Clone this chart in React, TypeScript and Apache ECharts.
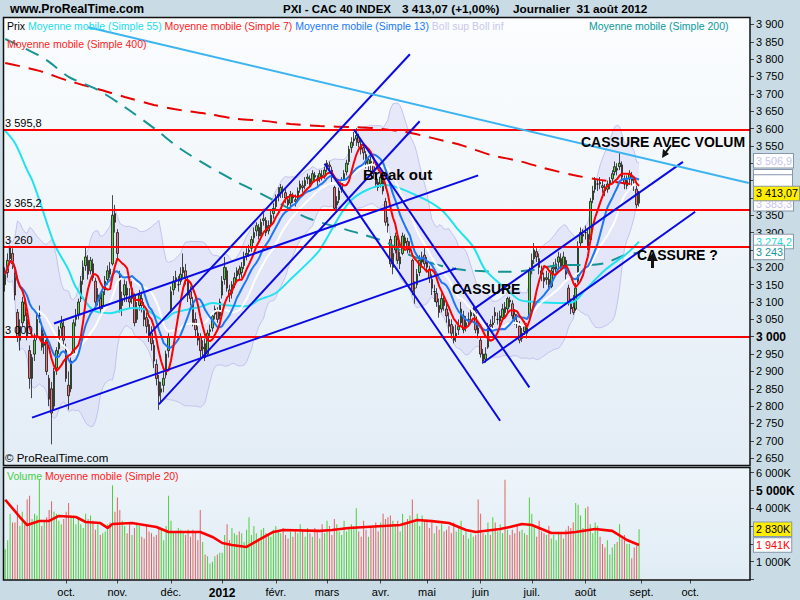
import React, { useEffect, useRef } from 'react';
import * as echarts from 'echarts';

const FONT = '"Liberation Sans", Arial, sans-serif';

// Trading calendar
const FIRST_DAY = '2011-08-29';
const LAST_DAY = '2012-08-31';
const HOLIDAYS = ['2011-12-26', '2012-04-06', '2012-04-09', '2012-05-01'];
const FUTURE_DAYS = 45;
const MONTHS_FR = ['janv.', 'févr.', 'mars', 'avr.', 'mai', 'juin', 'juil.', 'août', 'sept.', 'oct.', 'nov.', 'déc.'];

// Daily candles: [open, close, low, high]
const ohlc: number[][] = [
  [3150,3180,3130,3200],[3185,3220,3170,3240],[3225,3256,3210,3262],[3240,3210,3195,3255],[3190,3120,3105,3200],
  [3070,3000,2985,3080],[2990,3030,2960,3050],[3040,3100,3030,3115],[3095,3060,3045,3110],[3050,3000,2990,3070],
  [2960,2880,2850,2975],[2880,2940,2823,2950],[2950,2990,2930,3010],[3000,3050,2990,3065],[3060,3060,3040,3090],
  [3020,2970,2960,3030],[2975,2980,2950,3010],[2990,2900,2890,3000],[2880,2820,2800,2890],[2850,2780,2690,2870],
  [2800,2900,2790,2910],[2910,2960,2890,2970],[2965,3020,2950,3030],[3025,3040,3000,3060],[3030,2990,2970,3045],
  [2970,2880,2870,2980],[2860,2830,2790,2900],[2850,2930,2840,2940],[2950,3040,2945,3050],[3050,3060,3030,3080],
  [3065,3100,3050,3110],[3110,3160,3100,3175],[3165,3200,3150,3220],[3205,3230,3190,3258],[3220,3180,3165,3235],
  [3190,3220,3180,3230],[3210,3170,3160,3225],[3160,3100,3090,3170],[3110,3120,3090,3140],[3110,3080,3060,3125],
  [3090,3130,3080,3140],[3135,3160,3120,3175],[3165,3190,3150,3205],[3195,3180,3170,3215],[3210,3350,3205,3408],
  [3355,3330,3300,3380],[3300,3240,3220,3310],[3180,3080,3070,3190],[3090,3110,3060,3130],[3120,3150,3100,3165],
  [3140,3120,3100,3160],[3110,3100,3080,3140],[3110,3140,3095,3160],[3120,3040,3030,3125],[3050,3080,3040,3100],
  [3090,3120,3075,3135],[3110,3090,3070,3130],[3080,3050,3030,3100],[3055,3030,3010,3070],[3035,3000,2985,3050],
  [3010,2980,2960,3030],[2975,2930,2910,2990],[2920,2880,2860,2935],[2870,2830,2789,2890],[2840,2850,2810,2870],
  [2860,2880,2840,2900],[2890,2950,2880,2960],[2960,3000,2940,3010],[3080,3130,3070,3145],[3135,3160,3120,3175],
  [3170,3160,3140,3190],[3150,3150,3130,3175],[3160,3180,3150,3200],[3185,3200,3170,3240],[3190,3170,3150,3210],
  [3160,3120,3100,3175],[3130,3110,3090,3145],[3100,3040,3030,3115],[3050,3020,3000,3070],[3010,2990,2975,3030],
  [3000,2960,2935,3010],[2965,2970,2945,2990],[2980,2940,2930,2995],[2950,3010,2945,3020],[3015,3020,3000,3035],
  [3025,3060,3015,3070],[3065,3080,3050,3090],[3075,3050,3040,3085],[3060,3100,3050,3110],[3120,3160,3110,3175],
  [3165,3200,3150,3230],[3190,3140,3130,3200],[3135,3120,3100,3150],[3125,3150,3110,3160],[3150,3170,3140,3185],
  [3175,3190,3160,3200],[3195,3180,3165,3205],[3185,3200,3170,3215],[3205,3230,3195,3245],[3235,3240,3220,3255],
  [3245,3250,3230,3265],[3255,3280,3245,3290],[3285,3300,3270,3315],[3305,3320,3290,3330],[3315,3290,3280,3325],
  [3295,3330,3290,3340],[3335,3340,3320,3356],[3335,3300,3290,3345],[3305,3320,3295,3335],[3325,3350,3315,3365],
  [3355,3370,3340,3385],[3375,3400,3365,3410],[3405,3410,3390,3431],[3415,3430,3400,3440],[3425,3420,3400,3435],
  [3415,3400,3385,3425],[3395,3380,3365,3405],[3385,3410,3375,3420],[3405,3400,3385,3415],[3395,3390,3375,3410],
  [3395,3420,3390,3430],[3425,3440,3415,3450],[3435,3430,3415,3450],[3435,3450,3425,3460],[3455,3460,3440,3470],
  [3455,3440,3430,3465],[3445,3470,3440,3480],[3465,3460,3445,3475],[3455,3450,3435,3465],[3455,3470,3445,3480],
  [3465,3460,3450,3480],[3465,3480,3455,3490],[3485,3500,3475,3509],[3495,3490,3475,3505],[3480,3460,3445,3490],
  [3430,3370,3365,3435],[3380,3390,3365,3405],[3395,3420,3385,3430],[3425,3450,3415,3460],[3455,3470,3445,3480],
  [3475,3500,3465,3510],[3505,3540,3495,3550],[3545,3560,3530,3575],[3565,3570,3550,3590],[3570,3580,3550,3601],
  [3575,3560,3545,3585],[3555,3540,3525,3570],[3545,3530,3510,3555],[3525,3500,3485,3535],[3495,3510,3480,3520],
  [3505,3500,3480,3520],[3495,3470,3455,3505],[3465,3440,3430,3475],[3445,3430,3420,3455],[3440,3460,3430,3470],
  [3455,3420,3410,3465],[3390,3330,3320,3400],[3325,3320,3300,3345],[3280,3210,3200,3290],[3200,3240,3180,3260],
  [3250,3290,3240,3300],[3280,3220,3210,3290],[3210,3230,3195,3245],[3240,3290,3235,3300],[3285,3270,3255,3295],
  [3275,3250,3240,3285],[3255,3260,3240,3275],[3220,3130,3120,3225],[3140,3140,3095,3160],[3150,3180,3140,3195],
  [3185,3220,3175,3235],[3215,3230,3200,3245],[3235,3210,3200,3255],[3215,3200,3185,3230],[3195,3170,3155,3205],
  [3165,3140,3120,3180],[3130,3130,3100,3150],[3125,3100,3086,3140],[3090,3070,3055,3110],[3080,3110,3070,3125],
  [3105,3090,3075,3120],[3080,3060,3040,3095],[3050,3030,3010,3070],[3035,3010,2995,3050],[3000,2990,2981,3030],
  [3000,3010,2985,3035],[3020,3030,3005,3050],[3040,3080,3030,3100],[3060,3020,3010,3075],[3030,3040,3015,3060],
  [3045,3050,3030,3070],[3060,3070,3045,3085],[3075,3080,3060,3095],[3070,3020,3010,3080],[3025,3010,2995,3040],
  [2990,2950,2940,3000],[2950,2930,2922,2965],[2935,2950,2925,2970],[2970,3030,2965,3040],[3035,3030,3015,3050],
  [3035,3040,3020,3060],[3070,3060,3040,3085],[3050,3050,3035,3070],[3045,3060,3030,3075],[3055,3080,3045,3095],
  [3085,3070,3055,3100],[3080,3110,3070,3115],[3105,3100,3085,3115],[3095,3060,3050,3105],[3065,3050,3035,3080],
  [3045,3040,3025,3065],[3030,2990,2981,3045],[2995,3010,2985,3025],[3015,3030,3005,3045],[3025,3010,2995,3040],
  [3060,3190,3055,3200],[3195,3220,3180,3240],[3225,3250,3210,3270],[3245,3230,3215,3255],[3225,3200,3180,3240],
  [3190,3180,3160,3205],[3170,3160,3140,3185],[3165,3170,3150,3190],[3165,3150,3135,3185],[3145,3190,3140,3200],
  [3195,3200,3180,3215],[3195,3210,3185,3225],[3215,3230,3200,3245],[3225,3200,3190,3240],[3205,3230,3195,3245],
  [3220,3180,3165,3230],[3140,3100,3090,3150],[3095,3080,3065,3110],[3085,3070,3063,3120],[3080,3140,3075,3155],
  [3160,3260,3155,3275],[3270,3300,3260,3315],[3295,3290,3270,3310],[3300,3300,3280,3320],[3295,3260,3250,3310],
  [3280,3390,3275,3400],[3395,3420,3385,3435],[3425,3450,3415,3460],[3440,3440,3420,3455],[3445,3440,3425,3460],
  [3435,3430,3415,3450],[3430,3420,3405,3440],[3425,3440,3415,3450],[3440,3450,3425,3460],[3455,3470,3440,3480],
  [3475,3490,3465,3505],[3485,3480,3465,3500],[3490,3500,3480,3529],[3495,3460,3450,3505],[3455,3440,3425,3465],
  [3435,3450,3425,3465],[3455,3470,3440,3480],[3465,3450,3435,3475],[3445,3440,3420,3455],[3425,3380,3370,3435],
  [3385,3413.07,3375,3420],
];

// Daily volume in thousands
const volumes: number[] = [
  1700,2200,3700,3200,3200,4200,3000,3800,3100,4500,4700,3400,3700,3600,5600,3000,3300,3500,3900,4400,3800,3700,3300,3100,3400,
  3800,4300,3600,3600,3100,3500,3100,2900,3700,3400,3600,3300,2800,3100,2500,2600,2700,3100,3200,5300,3800,
  4600,3900,3300,3000,2600,3100,2500,2900,3100,3000,2400,2300,3000,2700,2600,2400,2500,2900,2800,2200,3000,4700,
  3300,2700,2700,2900,2800,2600,2500,2800,2400,2800,2700,2200,3900,2100,1400,1300,900,1000,1300,1400,1500,
  1500,2500,3100,2200,2900,2600,2500,2700,2600,2100,2800,3500,2500,3000,2600,2300,2800,2900,2600,2500,2400,2800,
  3000,2700,2600,2900,2500,2300,2700,2400,2800,2600,3100,2800,2400,2900,2600,2400,2900,2700,2300,3100,2600,
  3300,3000,2500,3400,3100,2700,2500,3300,2700,2900,3100,3000,4000,2700,2400,3300,2800,2400,3000,2900,3200,2700,
  3200,3700,3400,3500,3600,3300,3100,3300,2700,3700,3100,3400,3600,4500,3200,3700,3000,3600,3300,
  3300,2900,3200,2600,3000,2800,3100,2700,2800,3000,2600,3200,2700,2900,3300,2500,2700,2300,2600,2400,2500,4500,
  3700,2600,2500,3200,2500,3500,3200,2700,3100,2600,5600,2800,2500,2800,2600,3100,2700,2800,2600,2500,4600,
  3700,3000,2400,3300,2700,2600,2500,3000,2300,2500,2200,2600,2600,2300,2800,3000,2900,3200,4300,4200,3600,2900,
  4000,4100,3100,2600,3200,3000,2400,2000,1800,2200,1400,1800,2000,2100,3100,2300,2500,2000,2000,1200,1800,1900,2830,
];

// Long moving averages: [day index, value]
const ma55Points: number[][] = [[0,3593],[4,3558],[9,3480],[11,3452],[14,3394],[20,3270],[26,3192],[29,3143],[36,3077],[43,3068],[52,3083],[58,3077],[65,3048],[69,3068],[80,3086],[85,3097],[91,3091],[99,3088],[104,3106],[111,3126],[118,3172],[124,3212],[129,3250],[142,3394],[156,3437],[170,3403],[179,3365],[186,3307],[192,3259],[197,3192],[206,3135],[211,3106],[218,3100],[228,3097],[233,3100],[238,3135],[246,3192],[255,3240],[260,3274.2]];
const ma200Points: number[][] = [[0,3858],[6,3838],[14,3810],[18,3792],[26,3749],[38,3711],[49,3662],[61,3601],[72,3541],[84,3489],[95,3446],[106,3408],[115,3375],[124,3342],[145,3298],[156,3273],[165,3238],[176,3210],[185,3195],[193,3190],[205,3187],[216,3192],[222,3201],[229,3207],[239,3207],[246,3212],[253,3232],[260,3243]];
const ma400Points: number[][] = [[0,3789],[14,3766],[26,3737],[38,3714],[49,3691],[61,3668],[72,3653],[83,3642],[95,3628],[106,3622],[117,3613],[129,3607],[143,3604],[151,3601],[164,3590],[175,3573],[188,3550],[199,3524],[211,3506],[221,3486],[233,3466],[244,3452],[260,3437]];
const volMa20Points: number[][] = [[0,4480],[6,3510],[9,3060],[14,3290],[18,3290],[22,3570],[29,3510],[33,3230],[39,3170],[42,2900],[44,3120],[52,3170],[62,2950],[67,2670],[80,2670],[85,2390],[89,2050],[93,1940],[99,1830],[104,2220],[110,2670],[114,2780],[129,2730],[134,2780],[141,2890],[162,3060],[169,3340],[175,3280],[182,3170],[189,2780],[193,2670],[203,2840],[207,2950],[212,3120],[216,3060],[224,2610],[230,2610],[234,2670],[242,2840],[249,2730],[255,2220],[260,1941]];

// Drawn trend lines: [[startIdx, startPrice], [endIdx, endPrice]]
const blueTrendLines: number[][][] = [
  [[11,2767],[185,3197]],
  [[20,3038],[194,3465]],
  [[59,3006],[166,3814]],
  [[63,2805],[170,3621]],
  [[131,3499],[203,2758]],
  [[143,3597],[215,2854]],
  [[196,2925],[283,3360]],
  [[192,3079],[278,3504]],
];
const skyTrendLine: number[][] = [[34,3892],[305,3443]];

// Horizontal levels
const levelValues = [3595.8, 3365.2, 3260, 3000];
const levelLabels = ['3 595,8', '3 365,2', '3 260', '3 000'];

// Value tags on the right axis
const priceTags = [
  { value: 3506.9, text: '3 506,9', color: '#c4c4ec', bg: '#ffffff' },
  { value: 3383.3, text: '3 383,3', color: '#c4c4ec', bg: '#ffffff' },
  { value: 3413.07, text: '3 413,07', color: '#000000', bg: '#ffee00' },
  { value: 3274.2, text: '3 274,2', color: '#22dcdc', bg: '#ffffff' },
  { value: 3243, text: '3 243', color: '#129494', bg: '#ffffff' },
];
// Blank (white) value boxes of the short averages, hidden behind the tags
const blankTagValues = [3463, 3448];
// Axis tick labels covered by tags in the reference
const coveredPriceTicks = [3250, 3400, 3450, 3500];
const volumeTags = [
  { value: 2830, text: '2 830K', color: '#000000', bg: '#ffee00' },
  { value: 1941, text: '1 941K', color: '#ff0000', bg: '#ffffff' },
];

function buildDays(): string[] {
  const out: string[] = [];
  const d = new Date(FIRST_DAY + 'T00:00:00Z');
  const end = new Date(LAST_DAY + 'T00:00:00Z');
  while (d.getTime() <= end.getTime()) {
    const wd = d.getUTCDay();
    const s = d.toISOString().slice(0, 10);
    if (wd !== 0 && wd !== 6 && HOLIDAYS.indexOf(s) < 0) out.push(s);
    d.setUTCDate(d.getUTCDate() + 1);
  }
  let n = 0;
  while (n < FUTURE_DAYS) {
    const wd = d.getUTCDay();
    if (wd !== 0 && wd !== 6) { out.push(d.toISOString().slice(0, 10)); n++; }
    d.setUTCDate(d.getUTCDate() + 1);
  }
  return out;
}

function sma(vals: number[], n: number): number[] {
  return vals.map((_, i) => {
    const w = vals.slice(Math.max(0, i - n + 1), i + 1);
    return w.reduce((a, b) => a + b, 0) / w.length;
  });
}

const fmtThousands = (v: number) => {
  const s = String(Math.round(v));
  return s.length > 3 ? s.slice(0, s.length - 3) + ' ' + s.slice(-3) : s;
};

function buildOption(): any {
  const days = buildDays();
  const closes = ohlc.map((r) => r[1]);
  const ma7 = sma(closes, 7);
  const ma13 = sma(closes, 13);
  const ma20 = sma(closes, 20);
  const bUp: number[] = [];
  const bLow: number[] = [];
  closes.forEach((_, i) => {
    const w = closes.slice(Math.max(0, i - 19), i + 1);
    const m = w.reduce((a, b) => a + b, 0) / w.length;
    const sd = Math.sqrt(w.reduce((a, b) => a + (b - m) * (b - m), 0) / w.length);
    bUp.push(m + 2 * sd);
    bLow.push(m - 2 * sd);
  });
  const bWidth = bUp.map((u, i) => u - bLow[i]);

  const isMonthStart = (idx: number) =>
    idx > 10 && idx < days.length - 10 && days[idx] && days[idx - 1] &&
    days[idx].slice(5, 7) !== days[idx - 1].slice(5, 7);

  const lineBase = {
    type: 'line', xAxisIndex: 0, yAxisIndex: 0, symbol: 'none', silent: true,
    emphasis: { disabled: true }, animation: false,
  };

  const tagLabel = (t: any) => ({
    show: true, position: 'end', distance: 4, formatter: t.text, color: t.color,
    backgroundColor: t.bg, borderColor: '#8797ad', borderWidth: 1, padding: [1, 1, 0, 2],
    fontSize: 10.8, fontFamily: FONT, lineHeight: 12.5, opacity: 1,
  });
  const blankLabel = {
    show: true, position: 'end', distance: 4, formatter: '', backgroundColor: '#ffffff',
    borderColor: '#8797ad', borderWidth: 1, width: 38, height: 12, padding: 0,
  };
  const hiddenLine = { color: 'rgba(0,0,0,0)', width: 1, opacity: 1 };

  const series: any[] = [
    { ...lineBase, name: 'bollBase', data: bLow, stack: 'boll', lineStyle: { opacity: 0 }, z: 1 },
    { ...lineBase, name: 'bollFill', data: bWidth, stack: 'boll', lineStyle: { opacity: 0 },
      areaStyle: { color: 'rgba(216,216,246,0.72)' }, z: 1 },
    { ...lineBase, name: 'Boll sup', data: bUp, lineStyle: { color: '#c3c3ee', width: 1 }, z: 1 },
    { ...lineBase, name: 'Boll inf', data: bLow, lineStyle: { color: '#c3c3ee', width: 1 }, z: 1,
      markLine: {
        silent: true, symbol: ['none', 'none'], animation: false,
        data: levelValues.map((v, i) => ({
          yAxis: v,
          lineStyle: { color: '#ff0000', width: 2, type: 'solid' },
          label: { show: true, position: 'insideStartTop', formatter: levelLabels[i], color: '#000',
            fontSize: 11, fontFamily: FONT, distance: 1 },
        })),
      },
    },
    {
      type: 'candlestick', name: 'Prix', xAxisIndex: 0, yAxisIndex: 0, data: ohlc, barWidth: 2,
      silent: true, z: 3,
      itemStyle: { color: '#5fcf45', color0: '#ea7a7a', borderColor: '#000', borderColor0: '#000', borderWidth: 0.7 },
    },
    { ...lineBase, name: 'MM400', data: ma400Points, smooth: 0.3,
      lineStyle: { color: '#e60000', width: 2, type: [15, 9] }, z: 4 },
    { ...lineBase, name: 'MM200', data: ma200Points, smooth: 0.3,
      lineStyle: { color: '#169494', width: 2, type: [14, 9] }, z: 4 },
    { ...lineBase, name: 'MM55', data: ma55Points, smooth: 0.3, lineStyle: { color: '#22e2f0', width: 2 }, z: 4 },
    { ...lineBase, name: 'MM20', data: ma20, lineStyle: { color: '#ffffff', width: 2 }, z: 4 },
    { ...lineBase, name: 'MM13', data: ma13, lineStyle: { color: '#1e78f5', width: 2 }, z: 4 },
    { ...lineBase, name: 'MM7', data: ma7, lineStyle: { color: '#ff0000', width: 2 }, z: 4 },
    ...blueTrendLines.map((seg, k) => ({
      ...lineBase, name: 'trend' + k, data: seg, lineStyle: { color: '#0a0ae6', width: 2 }, z: 5,
    })),
    { ...lineBase, name: 'sky', data: skyTrendLine, lineStyle: { color: '#3db4f2', width: 2 }, z: 5 },
    { ...lineBase, name: 'blankTags', data: [], clip: false, z: 9,
      markLine: {
        silent: true, symbol: ['none', 'none'], animation: false,
        data: blankTagValues.map((v) => ({ yAxis: v, lineStyle: hiddenLine, label: blankLabel })),
      },
    },
    { ...lineBase, name: 'tags', data: [], clip: false, z: 10,
      markLine: {
        silent: true, symbol: ['none', 'none'], animation: false,
        data: priceTags.map((t) => ({ yAxis: t.value, lineStyle: hiddenLine, label: tagLabel(t) })),
      },
    },
    {
      type: 'bar', name: 'Volume', xAxisIndex: 1, yAxisIndex: 1, barWidth: 1, silent: true, z: 2,
      data: volumes.map((v, i) => ({
        value: v,
        itemStyle: { color: ohlc[i][1] >= ohlc[i][0] ? '#4fcd3c' : '#e06464' },
      })),
    },
    {
      type: 'line', name: 'VolMM20', xAxisIndex: 1, yAxisIndex: 1, data: volMa20Points, symbol: 'none',
      silent: true, z: 3, lineStyle: { color: '#ff0000', width: 2.6 },
    },
    {
      type: 'line', name: 'volTags', xAxisIndex: 1, yAxisIndex: 1, data: [], symbol: 'none',
      silent: true, clip: false, z: 10,
      markLine: {
        silent: true, symbol: ['none', 'none'], animation: false,
        data: volumeTags.map((t) => ({ yAxis: t.value, lineStyle: hiddenLine, label: tagLabel(t) })),
      },
    },
  ];

  const txt = (text: string, left: number, top: number, style: any) => ({
    text, left, top, padding: 0, z: 8,
    textStyle: { fontFamily: FONT, color: '#000', fontWeight: 'normal', fontSize: 11, ...style },
  });

  const legendRich = {
    k: { color: '#000', fontSize: 10.5, fontFamily: FONT },
    c: { color: '#22dcf0', fontSize: 10.5, fontFamily: FONT },
    r: { color: '#ff1a1a', fontSize: 10.5, fontFamily: FONT },
    b: { color: '#1a78ff', fontSize: 10.5, fontFamily: FONT },
    l: { color: '#c8c8f0', fontSize: 10.5, fontFamily: FONT },
    g: { color: '#44cc44', fontSize: 10.5, fontFamily: FONT },
  };

  const title: any[] = [
    txt('www.ProRealTime.com', 10, 3, { fontSize: 12.2, fontWeight: 'bold' }),
    txt('PXI - CAC 40 INDEX', 283, 3, { fontSize: 11.5, fontWeight: 'bold' }),
    txt('3 413,07 (+1,00%)', 402, 3, { fontSize: 11.8, fontWeight: 'bold' }),
    txt('Journalier  31 août 2012', 513, 3, { fontSize: 11.8, fontWeight: 'bold' }),
    txt('{k|Prix} {c|Moyenne mobile (Simple 55)} {r|Moyenne mobile (Simple 7)} {b|Moyenne mobile (Simple 13)} {l|Boll sup Boll inf}',
      7, 20.5, { fontSize: 10.5, rich: legendRich }),
    txt('Moyenne mobile (Simple 200)', 589, 20.5, { fontSize: 10.5, color: '#0b9a9a' }),
    txt('Moyenne mobile (Simple 400)', 7, 38, { fontSize: 10.5, color: '#ff1a1a' }),
    txt('© ProRealTime.com', 5, 452, { fontSize: 11.5 }),
    txt('{g|Volume} {r|Moyenne mobile (Simple 20)}', 7, 470.5, { fontSize: 10.5, rich: legendRich }),
    txt('Break out', 363, 166.5, { fontSize: 15, fontWeight: 'bold' }),
    txt('CASSURE', 452, 281.5, { fontSize: 14, fontWeight: 'bold' }),
    txt('CASSURE AVEC VOLUME', 581, 134.5, { fontSize: 14, fontWeight: 'bold', width: 169, overflow: 'truncate', ellipsis: '' }),
    txt('CASSURE ?', 637, 248, { fontSize: 14, fontWeight: 'bold' }),
  ];

  const panelGrad = (a: string, b: string) =>
    new echarts.graphic.LinearGradient(0, 0, 0, 1, [{ offset: 0, color: a }, { offset: 1, color: b }]);

  const graphic: any[] = [
    { type: 'rect', z: -10, silent: true, shape: { x: 3, y: 17, width: 747, height: 449 },
      style: { fill: panelGrad('#fbfdfe', '#e3edf6') } },
    { type: 'rect', z: -10, silent: true, shape: { x: 3, y: 468, width: 747, height: 112 },
      style: { fill: panelGrad('#eef5fa', '#e0ecf5') } },
    { type: 'rect', z: 100, silent: true, shape: { x: 3.5, y: 17.5, width: 746.5, height: 448 },
      style: { fill: 'none', stroke: '#111', lineWidth: 1.5 } },
    { type: 'rect', z: 100, silent: true, shape: { x: 3.5, y: 467.5, width: 746.5, height: 112.5 },
      style: { fill: 'none', stroke: '#111', lineWidth: 1.5 } },
    { type: 'polygon', z: 100, silent: true, shape: { points: [[662, 158], [663, 149], [669, 154]] },
      style: { fill: '#111' } },
    { type: 'line', z: 100, silent: true, shape: { x1: 666, y1: 152, x2: 671, y2: 145 },
      style: { stroke: '#111', lineWidth: 2 } },
    { type: 'polygon', z: 100, silent: true, shape: { points: [[652.5, 253], [647, 261], [658, 261]] },
      style: { fill: '#111' } },
    { type: 'line', z: 100, silent: true, shape: { x1: 652.5, y1: 259, x2: 652.5, y2: 268 },
      style: { stroke: '#111', lineWidth: 3 } },
  ];

  return {
    animation: false,
    backgroundColor: '#c9dce6',
    title,
    graphic,
    grid: [
      { left: 4, width: 746, top: 24.4, height: 433.8 },
      { left: 4, width: 746, top: 472.7, height: 106.8 },
    ],
    xAxis: [
      { type: 'category', gridIndex: 0, data: days, boundaryGap: true, show: false },
      {
        type: 'category', gridIndex: 1, data: days, boundaryGap: true,
        axisLine: { show: false },
        axisTick: { show: true, interval: (i: number) => isMonthStart(i), alignWithLabel: true, length: 4,
          lineStyle: { color: '#444' } },
        axisLabel: {
          interval: (i: number) => isMonthStart(i), margin: 7, fontSize: 11, color: '#000', fontFamily: FONT,
          formatter: (v: string) => {
            const m = +v.slice(5, 7);
            return m === 1 ? '{y|' + v.slice(0, 4) + '}' : MONTHS_FR[m - 1];
          },
          rich: { y: { fontWeight: 'bold', fontSize: 12, color: '#000', fontFamily: FONT } },
        },
        splitLine: { show: false },
      },
    ],
    yAxis: [
      {
        type: 'value', gridIndex: 0, position: 'right', min: 2650, max: 3900, interval: 50,
        axisLine: { show: false }, splitLine: { show: false },
        axisTick: { show: true, length: 4, lineStyle: { color: '#444' } },
        axisLabel: {
          margin: 6, fontSize: 11, color: '#000', fontFamily: FONT,
          formatter: (v: number) =>
            coveredPriceTicks.indexOf(v) >= 0 ? '' : v === 3000 ? '{b|3 000}' : fmtThousands(v),
          rich: { b: { fontWeight: 'bold', fontSize: 12, color: '#000', fontFamily: FONT } },
        },
      },
      {
        type: 'value', gridIndex: 1, position: 'right', min: 0, max: 6000, interval: 1000,
        axisLine: { show: false }, splitLine: { show: false },
        axisTick: { show: true, length: 4, lineStyle: { color: '#444' } },
        axisLabel: {
          margin: 6, fontSize: 11, color: '#000', fontFamily: FONT,
          formatter: (v: number) =>
            v === 0 || v === 2000 || v === 3000 ? '' : v === 5000 ? '{b|5 000K}' : fmtThousands(v) + 'K',
          rich: { b: { fontWeight: 'bold', fontSize: 12, color: '#000', fontFamily: FONT } },
        },
      },
    ],
    series,
  };
}

export default function App() {
  const ref = useRef<HTMLDivElement>(null);
  useEffect(() => {
    if (!ref.current) return;
    const chart = echarts.init(ref.current, undefined, { renderer: 'svg' });
    chart.setOption(buildOption());
    return () => chart.dispose();
  }, []);
  return (
    <div
      ref={ref}
      style={{ position: 'fixed', left: 0, top: 0, width: 800, height: 600, background: '#c9dce6' }}
    />
  );
}
